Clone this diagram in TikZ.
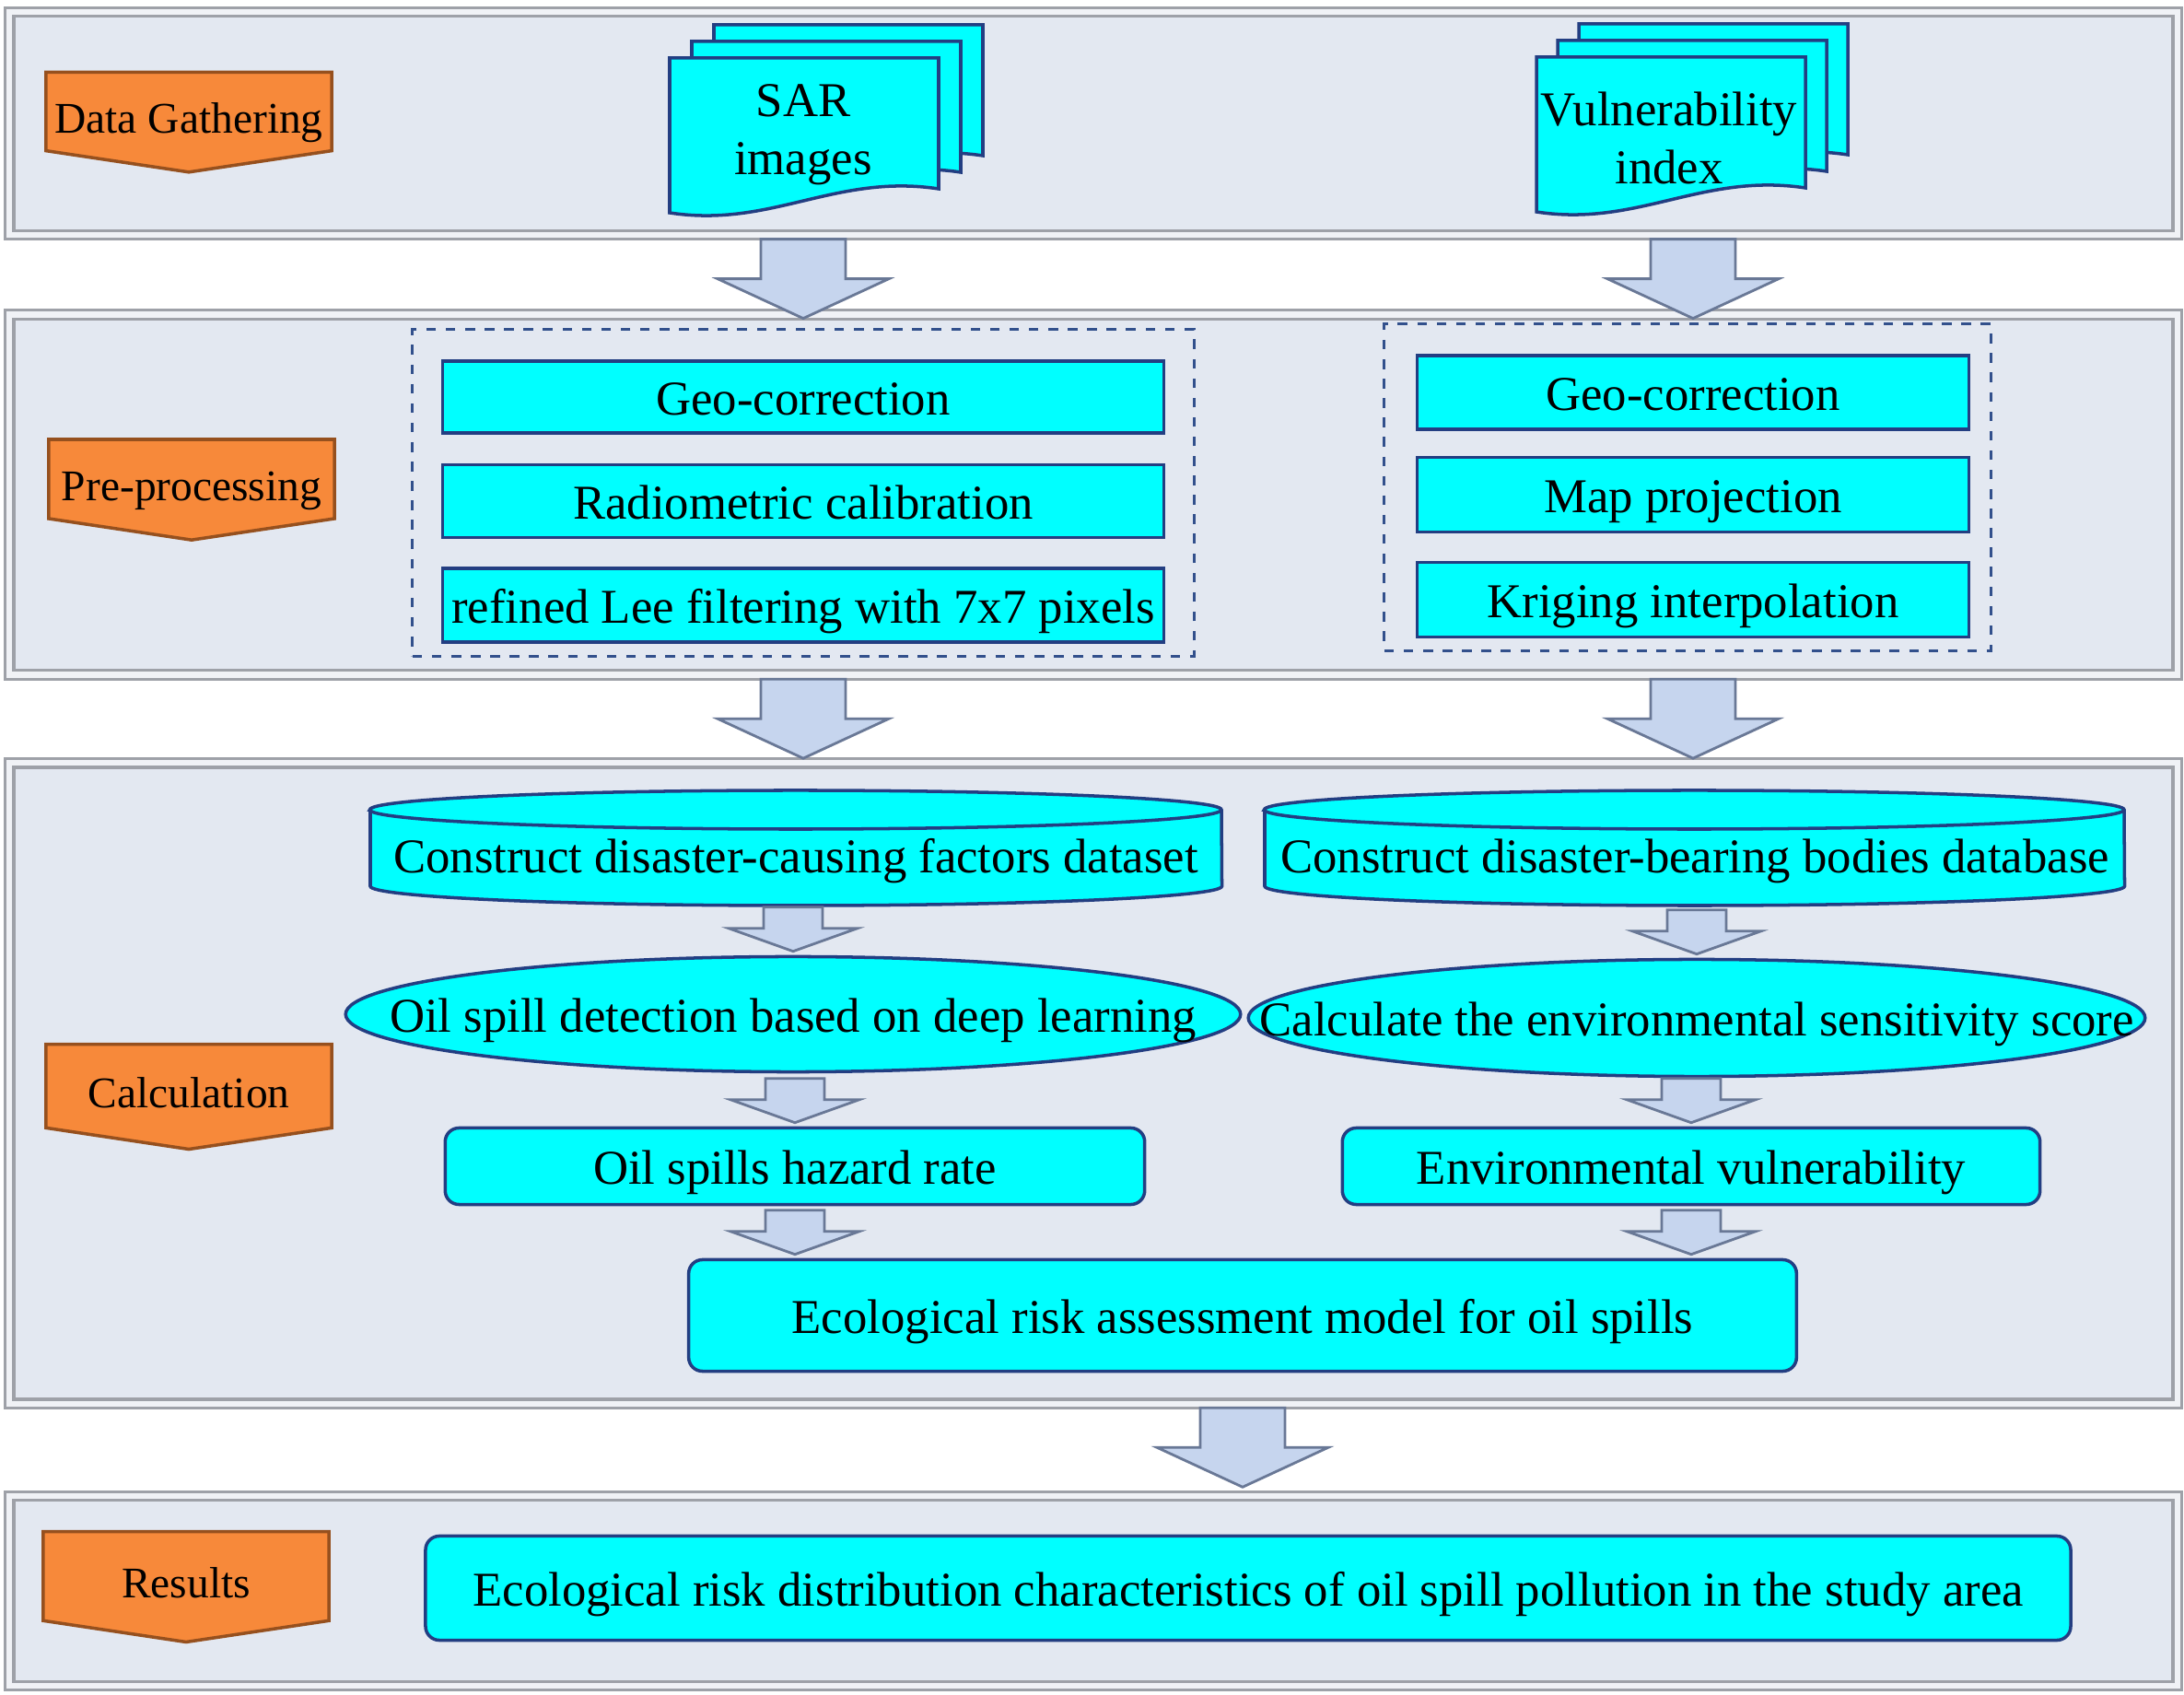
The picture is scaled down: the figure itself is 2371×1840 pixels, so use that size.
\documentclass[tikz,border=0pt]{standalone}
\usepackage{fontspec}
\setmainfont{Liberation Serif}
\usetikzlibrary{shapes.geometric,shapes.symbols}

\definecolor{bandfill}{RGB}{227,232,241}
\definecolor{bandedge}{RGB}{158,161,168}
\definecolor{bandlight}{RGB}{240,242,246}
\definecolor{boxfill}{RGB}{0,255,255}
\definecolor{boxedge}{RGB}{35,62,130}
\definecolor{stagefill}{RGB}{247,137,58}
\definecolor{stageedge}{RGB}{150,80,30}
\definecolor{arrowfill}{RGB}{198,213,238}
\definecolor{arrowedge}{RGB}{105,120,150}
\definecolor{dashedge}{RGB}{50,80,140}

\begin{document}
\begin{tikzpicture}[x=0.01cm,y=-0.01cm,
  band/.style={draw=bandedge,double=bandlight,double distance=1.8pt,line width=0.9pt,fill=bandfill},
  stage/.style={signal,signal to=south,signal pointer angle=163,draw=stageedge,fill=stagefill,
    line width=1pt,minimum width=3.1cm,minimum height=1.07cm,inner sep=0pt,
    text height=0.48cm,text depth=0.02cm,font=\fontsize{13.5}{16}\selectfont},
  procbox/.style={draw=boxedge,fill=boxfill,line width=1pt,inner sep=0pt,
    text height=0.44cm,text depth=0.06cm,font=\fontsize{15}{18}\selectfont},
  roundbox/.style={procbox,rounded corners=0.15cm},
  oval/.style={ellipse,draw=boxedge,fill=boxfill,line width=1pt,inner sep=0pt},
  cylbody/.style={draw=boxedge,fill=boxfill,line width=1pt},
  txt/.style={inner sep=0pt,text height=0.44cm,text depth=0.06cm,font=\fontsize{15}{18}\selectfont},
  doctext/.style={inner sep=0pt,align=center,font=\fontsize{15}{18}\selectfont},
  dashbox/.style={draw=dashedge,dashed,line width=0.8pt},
  arrowbody/.style={draw=arrowedge,fill=arrowfill,line width=0.8pt,line join=miter},
  bigarrow/.pic={\draw[arrowbody] (-46,3) -- (46,3) -- (46,46) -- (93,46) -- (0,89) -- (-93,46) -- (-46,46) -- cycle;},
  smallarrow/.pic={\draw[arrowbody] (-32,-52) -- (32,-52) -- (32,-29) -- (70,-29) -- (0,-4) -- (-70,-29) -- (-32,-29) -- cycle;},
  docpage/.pic={\draw[cylbody] (0,0) -- (292,0) -- (292,142) .. controls (180,125) and (110,185) .. (0,168) -- cycle;}
]
\useasboundingbox (0,0) rectangle (2371,1840);

% bands
\node[band,minimum width=23.52cm,minimum height=2.42cm] (b1) at (1187,134) {};
\node[band,minimum width=23.52cm,minimum height=3.91cm] (b2) at (1187,537) {};
\node[band,minimum width=23.52cm,minimum height=6.95cm] (b3) at (1187,1176) {};
\node[band,minimum width=23.52cm,minimum height=2.06cm] (b4) at (1187,1727) {};

% stage labels
\node[stage] (gather) at (205,121) {Data Gathering};
\node[stage] (prep) at (208,520) {Pre-processing};
\node[stage] (calc) at (205,1179) {Calculation};
\node[stage] (result) at (202,1711) {Results};

% data gathering
\pic at (775,27) {docpage};
\pic at (751,45) {docpage};
\pic at (727,63) {docpage};
\node[doctext] (sar) at (872,146) {SAR\\images};
\pic at (1714,26) {docpage};
\pic at (1691,44) {docpage};
\pic at (1668,62) {docpage};
\node[doctext] (vul) at (1812,150) {Vulnerability\\index};

% pre-processing
\node[dashbox,minimum width=8.48cm,minimum height=3.54cm] (sarpre) at (872,535) {};
\node[dashbox,minimum width=6.58cm,minimum height=3.54cm] (vulpre) at (1832,529) {};
\node[procbox,minimum width=7.83cm,minimum height=0.78cm] (geo1) at (872,431) {Geo-correction};
\node[procbox,minimum width=7.83cm,minimum height=0.79cm] (rad) at (872,544) {Radiometric calibration};
\node[procbox,minimum width=7.83cm,minimum height=0.80cm] (lee) at (872,657) {refined Lee filtering with 7x7 pixels};
\node[procbox,minimum width=5.99cm,minimum height=0.80cm] (geo2) at (1838,426) {Geo-correction};
\node[procbox,minimum width=5.99cm,minimum height=0.81cm] (map) at (1838,537) {Map projection};
\node[procbox,minimum width=5.99cm,minimum height=0.81cm] (krig) at (1838,651) {Kriging interpolation};

\pic at (geo1 |- b1.south) {bigarrow};
\pic at (geo2 |- b1.south) {bigarrow};
\pic at (geo1 |- b2.south) {bigarrow};
\pic at (geo2 |- b2.south) {bigarrow};

% calculation
\draw[cylbody] (402,879) -- (402,962) arc[start angle=180,end angle=360,x radius=4.62cm,y radius=0.21cm]
  -- (1326,879) arc[start angle=0,end angle=180,x radius=4.62cm,y radius=0.21cm] -- cycle;
\draw[cylbody,fill=none] (1326,879) arc[start angle=0,end angle=-180,x radius=4.62cm,y radius=0.21cm];
\node[txt] (cdf) at (864,928) {Construct disaster-causing factors dataset};
\draw[cylbody] (1373,879) -- (1373,962) arc[start angle=180,end angle=360,x radius=4.665cm,y radius=0.21cm]
  -- (2306,879) arc[start angle=0,end angle=180,x radius=4.665cm,y radius=0.21cm] -- cycle;
\draw[cylbody,fill=none] (2306,879) arc[start angle=0,end angle=-180,x radius=4.665cm,y radius=0.21cm];
\node[txt] (cdb) at (1840,928) {Construct disaster-bearing bodies database};

\node[oval,minimum width=9.71cm,minimum height=1.25cm] (osd) at (861,1101) {};
\node[txt] (osdt) at (osd) {Oil spill detection based on deep learning};
\node[oval,minimum width=9.73cm,minimum height=1.27cm] (ces) at (1842,1105) {};
\node[txt] (cest) at (ces) {Calculate the environmental sensitivity score};

\node[roundbox,minimum width=7.59cm,minimum height=0.83cm] (ohr) at (863,1266) {Oil spills hazard rate};
\node[roundbox,minimum width=7.57cm,minimum height=0.83cm] (evu) at (1836,1266) {Environmental vulnerability};
\node[roundbox,minimum width=12.02cm,minimum height=1.21cm] (erm) at (1349,1428) {Ecological risk assessment model for oil spills};

\pic at (osd.north) {smallarrow};
\pic at (ces.north) {smallarrow};
\pic at (ohr.north) {smallarrow};
\pic at (evu.north) {smallarrow};
\pic at (erm.north -| ohr) {smallarrow};
\pic at (erm.north -| evu) {smallarrow};

\pic at (erm |- b3.south) {bigarrow};

% results
\node[roundbox,minimum width=17.85cm,minimum height=1.13cm] (res) at (1355,1724) {Ecological risk distribution characteristics of oil spill pollution in the study area};

\end{tikzpicture}
\end{document}
